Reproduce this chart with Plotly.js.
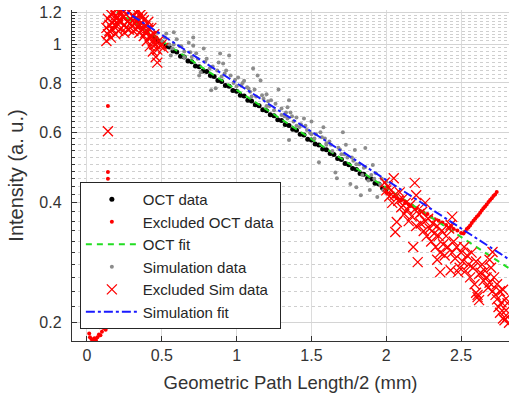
<!DOCTYPE html>
<html>
<head>
<meta charset="utf-8">
<script src="https://cdn.plot.ly/plotly-3.0.1.min.js"></script>
<style>
  html, body { margin: 0; padding: 0; background: #fff; }
  #chart { width: 509px; height: 400px; }
</style>
</head>
<body>
<div id="chart"></div>
<script>
// ---- Data ----
const xTickVals = [0, 0.5, 1, 1.5, 2, 2.5];
const xTickText = ['0', '0.5', '1', '1.5', '2', '2.5'];
const yTickVals = [0.2, 0.4, 0.6, 0.8, 1, 1.2];
const yTickText = ['0.2', '0.4', '0.6', '0.8', '1', '1.2'];

// OCT data (black dots)
const octX = [0.45,0.475,0.5,0.525,0.55,0.575,0.6,0.625,0.65,0.675,0.7,0.725,0.75,0.775,0.8,0.825,0.85,0.875,0.9,0.925,0.95,0.975,1.0,1.025,1.05,1.075,1.1,1.125,1.15,1.175,1.2,1.225,1.25,1.275,1.3,1.325,1.35,1.375,1.4,1.425,1.45,1.475,1.5,1.525,1.55,1.575,1.6,1.625,1.65,1.675,1.7,1.725,1.75,1.775,1.8,1.825,1.85,1.875,1.9,1.925,1.95,1.975,2.0];
const octY = [1.04,1.02,1.012,0.99,0.985,0.962,0.957,0.934,0.930,0.908,0.905,0.883,0.879,0.858,0.855,0.835,0.831,0.812,0.807,0.789,0.785,0.766,0.763,0.745,0.742,0.724,0.721,0.705,0.701,0.685,0.681,0.666,0.662,0.647,0.644,0.629,0.626,0.612,0.609,0.595,0.592,0.578,0.575,0.562,0.559,0.546,0.544,0.532,0.529,0.517,0.514,0.502,0.499,0.488,0.485,0.474,0.472,0.461,0.459,0.448,0.446,0.436,0.434];

// Excluded OCT data (red dots)
const exOctX = [0.01,0.015,0.02,0.03,0.04,0.05,0.06,0.07,0.08,0.09,0.1,0.11,0.12,0.125,0.06,0.085,
  0.14,0.14,0.14,
  0.15,0.17,0.2,0.23,0.26,0.3,0.33,0.36,0.39,0.42,0.45,
  2.0,2.025,2.05,2.075,2.1,2.125,2.15,2.175,2.2,2.225,2.25,2.275,2.3,2.325,2.35,2.375,2.4,2.425,2.45,2.475,2.5,
  2.516,2.527,2.538,2.549,2.56,2.571,2.583,2.594,2.605,2.616,2.627,2.638,2.649,2.66,2.671,2.683,2.694,2.705,2.716,2.727,2.738];
const exOctY = [0.196,0.188,0.184,0.182,0.181,0.183,0.181,0.184,0.187,0.186,0.19,0.194,0.197,0.192,0.197,0.195,
  0.70,0.478,0.46,
  1.05,1.1,1.13,1.15,1.16,1.15,1.13,1.1,1.07,1.04,1.02,
  0.425,0.421,0.415,0.411,0.406,0.400,0.396,0.393,0.387,0.382,0.378,0.375,0.369,0.364,0.361,0.357,0.352,0.347,0.344,0.341,0.336,
  0.335,0.339,0.344,0.347,0.351,0.356,0.361,0.365,0.369,0.373,0.378,0.383,0.388,0.392,0.396,0.402,0.407,0.411,0.416,0.420,0.426];

// Fits (endpoints)
const fitX = [0.2, 2.82];
const octFitY = [1.209, 0.274];
const simFitY = [1.25, 0.2886];

// Simulation data (gray dots)
const simX = [0.5,0.53,0.55,0.56,0.57,0.58,0.58,0.6,0.62,0.65,0.65,0.68,0.7,0.71,0.71,0.73,0.75,0.76,0.78,0.8,0.82,0.83,0.84,0.86,0.88,0.89,0.9,0.91,0.93,0.95,0.96,0.98,1.0,1.01,1.03,1.05,1.07,1.09,1.1,1.11,1.13,1.14,1.16,1.18,1.2,1.2,1.22,1.23,1.25,1.28,1.3,1.3,1.32,1.34,1.34,1.35,1.35,1.36,1.38,1.4,1.4,1.42,1.45,1.47,1.49,1.5,1.5,1.52,1.55,1.56,1.58,1.59,1.6,1.6,1.62,1.64,1.66,1.67,1.68,1.7,1.71,1.73,1.74,1.76,1.78,1.79,1.8,1.8,1.82,1.83,1.84,1.86,1.86,1.88,1.89,1.9,1.91,1.92,1.94,1.96,1.98,2.0,
  0.47,0.52,0.63,0.69,0.74,0.79,0.87,0.92,0.99,1.04,1.08,1.12,1.17,1.21,1.26,1.33,1.37,1.43,1.46,1.53,1.57,1.63,1.69,1.72,1.77,1.85,1.93,1.97];
const simY = [1.02,1.065,1.0,0.938,0.977,1.072,1.0,1.03,0.99,0.928,0.96,1.01,0.93,1.04,0.994,0.95,0.836,0.851,0.977,0.92,0.87,0.767,0.88,0.776,0.9,0.949,0.83,0.896,0.86,0.938,0.836,0.80,0.785,0.826,0.79,0.81,0.78,0.76,0.74,0.87,0.74,0.836,0.812,0.73,0.75,0.70,0.70,0.724,0.683,0.77,0.69,0.665,0.66,0.695,0.652,0.575,0.724,0.675,0.64,0.655,0.625,0.62,0.652,0.61,0.60,0.64,0.595,0.58,0.506,0.602,0.619,0.58,0.56,0.565,0.57,0.54,0.477,0.461,0.55,0.53,0.602,0.56,0.52,0.446,0.51,0.543,0.438,0.50,0.50,0.418,0.47,0.549,0.492,0.455,0.431,0.47,0.498,0.46,0.414,0.445,0.43,0.452,
  1.07,1.04,0.99,0.955,0.92,0.905,0.86,0.845,0.815,0.80,0.775,0.77,0.745,0.72,0.71,0.675,0.66,0.63,0.625,0.595,0.585,0.56,0.545,0.53,0.52,0.49,0.475,0.46];

// Excluded Sim data (red crosses)
const exSimX = [0.13,0.13,0.14,0.14,0.15,0.16,0.16,0.17,0.18,0.18,0.19,0.2,0.2,0.21,0.22,0.22,0.23,0.24,0.25,0.25,0.26,0.27,0.28,0.28,0.29,0.3,0.31,0.31,0.32,0.33,0.34,0.34,0.35,0.36,0.36,0.37,0.38,0.38,0.39,0.4,0.4,0.41,0.42,0.42,0.43,0.44,0.44,0.45,0.46,0.46,0.47,0.47,0.48,0.49,0.5,0.51,0.34,0.24,
  0.15,0.17,0.19,0.21,0.23,0.26,0.29,0.32,0.35,0.37,0.39,0.41,0.43,0.45,
  0.14,
  1.99,2.0,2.01,2.02,2.03,2.05,2.04,2.06,2.06,2.07,2.08,2.09,2.1,2.11,2.12,2.13,2.14,2.15,2.16,2.17,2.18,2.19,2.19,2.2,2.2,2.21,2.22,2.23,2.24,2.25,2.26,2.26,2.27,2.28,2.29,2.3,2.31,2.32,2.33,2.34,2.34,2.35,2.36,2.36,2.37,2.38,2.39,2.4,2.41,2.42,2.43,2.43,2.44,2.44,2.45,2.46,2.47,2.48,2.49,2.5,2.51,2.52,2.53,2.54,2.55,2.56,2.57,2.58,2.59,2.6,2.61,2.61,2.62,2.6,2.62,2.63,2.64,2.65,2.66,2.67,2.68,2.69,2.69,2.7,2.71,2.71,2.72,2.73,2.74,2.74,2.75,2.76,2.76,2.77,2.78,2.78,2.79,2.8,2.81,2.81,2.82,2.8];
const exSimY = [1.02,1.1,1.16,1.06,1.12,1.19,1.04,1.09,1.15,1.2,1.06,1.11,1.17,1.08,1.14,1.21,1.1,1.17,1.12,1.07,1.19,1.14,1.09,1.21,1.16,1.11,1.18,1.08,1.13,1.2,1.1,1.16,1.07,1.13,1.19,1.09,1.15,1.05,1.11,1.02,1.08,1.14,1.05,0.99,1.1,1.02,0.96,1.06,0.93,1.0,0.9,0.97,1.02,0.99,1.0,0.98,1.22,1.22,
  1.08,1.13,1.18,1.15,1.19,1.1,1.13,1.16,1.12,1.17,1.07,1.1,1.05,1.0,
  0.605,
  0.45,0.43,0.44,0.415,0.43,0.461,0.40,0.42,0.338,0.358,0.405,0.425,0.39,0.41,0.375,0.40,0.385,0.36,0.395,0.37,0.31,0.449,0.385,0.418,0.35,0.284,0.375,0.355,0.38,0.34,0.40,0.36,0.33,0.365,0.345,0.32,0.355,0.335,0.31,0.288,0.35,0.33,0.268,0.30,0.34,0.315,0.295,0.33,0.31,0.345,0.352,0.271,0.369,0.30,0.32,0.29,0.31,0.268,0.275,0.30,0.285,0.31,0.27,0.295,0.28,0.26,0.30,0.275,0.25,0.285,0.232,0.235,0.228,0.238,0.265,0.267,0.28,0.255,0.27,0.26,0.245,0.252,0.288,0.275,0.301,0.24,0.26,0.235,0.229,0.25,0.219,0.212,0.24,0.225,0.242,0.205,0.203,0.215,0.224,0.207,0.2,0.23];

// ---- Axis helpers (grid positions, not data) ----
const yMinorVals = [];
for (let v = 18; v <= 122; v += 2) yMinorVals.push(v / 100);

const FONT = '"Liberation Sans", Arial, Helvetica, sans-serif';

const traces = [
  { name: 'OCT data', x: octX, y: octY, type: 'scatter', mode: 'markers',
    marker: { color: '#000000', size: 5 } },
  { name: 'Excluded OCT data', x: exOctX, y: exOctY, type: 'scatter', mode: 'markers',
    marker: { color: '#ff0000', size: 4 } },
  { name: 'OCT fit', x: fitX, y: octFitY, type: 'scatter', mode: 'lines',
    line: { color: '#22dd22', width: 2, dash: '6px,5px' } },
  { name: 'Simulation data', x: simX, y: simY, type: 'scatter', mode: 'markers',
    marker: { color: '#8c8c8c', size: 4 } },
  { name: 'Excluded Sim data', x: exSimX, y: exSimY, type: 'scatter', mode: 'markers',
    marker: { symbol: 'x-thin', size: 10, color: '#ff0000', line: { color: '#ff0000', width: 1.3 } } },
  { name: 'Simulation fit', x: fitX, y: simFitY, type: 'scatter', mode: 'lines',
    line: { color: '#1a1aff', width: 2, dash: 'dashdot' } }
];

const layout = {
  width: 509, height: 400,
  margin: { l: 72, r: 0, t: 10, b: 59 },
  paper_bgcolor: '#ffffff', plot_bgcolor: '#ffffff',
  font: { family: FONT, color: '#333333', size: 15 },
  showlegend: true,
  legend: {
    x: 0.018, y: 0.48, xanchor: 'left', yanchor: 'top',
    bgcolor: '#ffffff', bordercolor: '#262626', borderwidth: 1,
    font: { family: FONT, size: 15, color: '#262626' },
    traceorder: 'normal', itemwidth: 52
  },
  xaxis: {
    range: [-0.1, 2.82],
    tickmode: 'array', tickvals: xTickVals, ticktext: xTickText,
    ticks: 'inside', ticklen: 5, tickcolor: '#333',
    showline: true, linecolor: '#333', linewidth: 1.2, mirror: false,
    showgrid: true, gridcolor: '#dcdcdc', zeroline: false,
    tickfont: { family: FONT, size: 16, color: '#333' },
    title: { text: 'Geometric Path Length/2 (mm)', font: { family: FONT, size: 18.5, color: '#333' }, standoff: 12 }
  },
  yaxis: {
    type: 'log',
    range: [Math.log10(0.18), Math.log10(1.22)],
    tickmode: 'array', tickvals: yTickVals, ticktext: yTickText,
    ticks: 'inside', ticklen: 5, tickcolor: '#333',
    showline: true, linecolor: '#333', linewidth: 1.2, mirror: false,
    showgrid: true, gridcolor: '#d4d4d4', zeroline: false,
    tickfont: { family: FONT, size: 16, color: '#333' },
    ticklabelstandoff: 6,
    minor: { tickmode: 'array', tickvals: yMinorVals, ticks: 'inside', ticklen: 3, tickcolor: '#333',
             showgrid: true, gridcolor: '#cfcfcf', griddash: 'dot', gridwidth: 1 },
    title: { text: 'Intensity (a. u.)', font: { family: FONT, size: 20, color: '#333' }, standoff: 10 }
  }
};

Plotly.newPlot('chart', traces, layout, { displayModeBar: false, staticPlot: true });
</script>
</body>
</html>
